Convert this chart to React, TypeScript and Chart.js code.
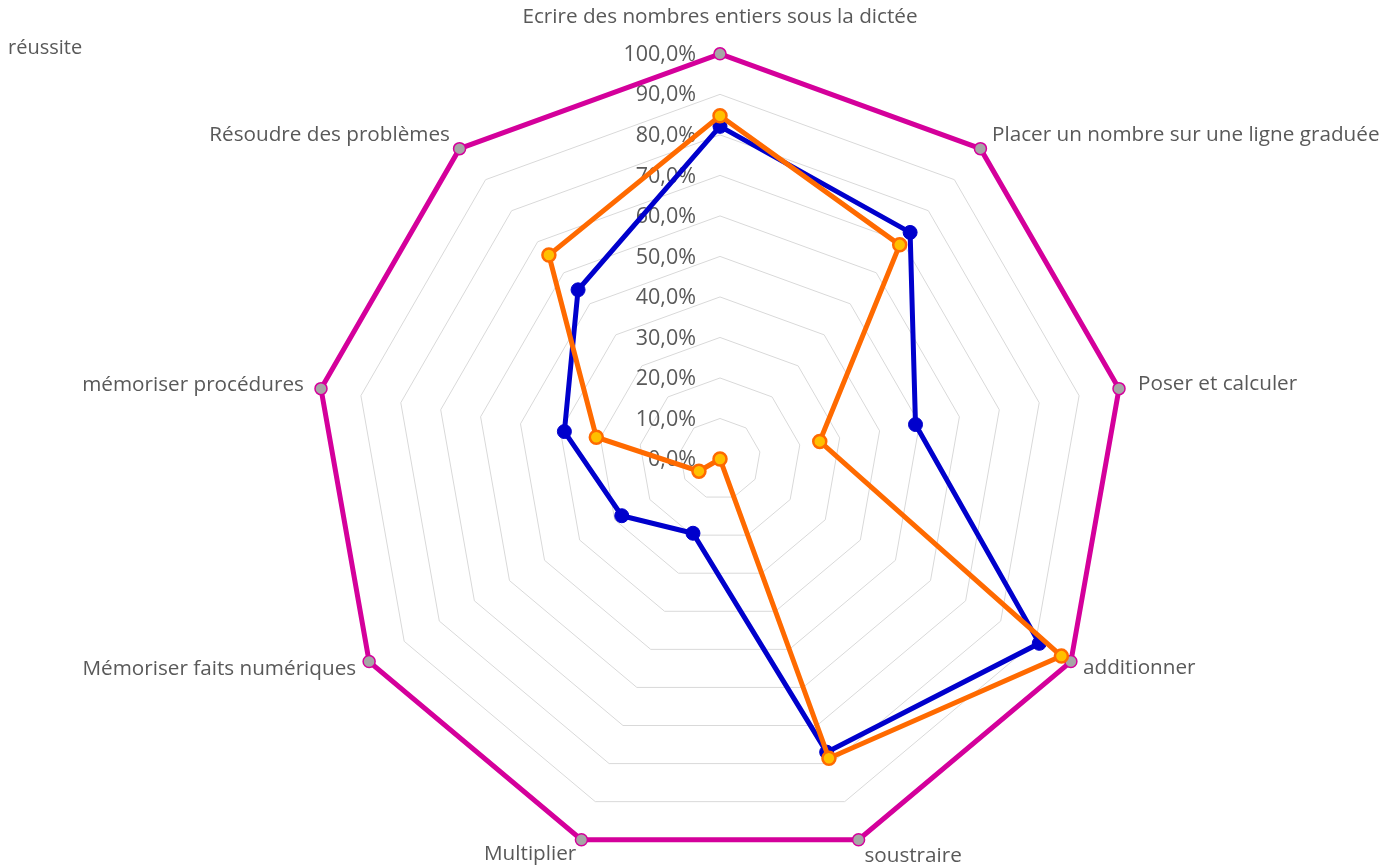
import React, { useEffect, useRef } from 'react';
import { Chart, registerables } from 'chart.js';

Chart.register(...registerables);

const categories = [
  'Ecrire des nombres entiers sous la dictée',
  'Placer un nombre sur une ligne graduée',
  'Poser et calculer',
  'additionner',
  'soustraire',
  'Multiplier',
  'Mémoriser faits numériques',
  'mémoriser procédures',
  'Résoudre des problèmes',
];

const fullScore = [100, 100, 100, 100, 100, 100, 100, 100, 100];
const blueSeries = [82.1, 73, 49, 91, 77, 19.5, 28, 39, 54.5];
const orangeSeries = [84.7, 69, 25, 97.3, 78.6, 0, 6, 31, 65.7];
const tickValues = [0, 10, 20, 30, 40, 50, 60, 70, 80, 90, 100];
const legendText = 'réussite';

const FONT = "'Open Sans', sans-serif";
const TEXT_COLOR = '#595959';
const LABEL_SIZE = 20.7;
const labelPadding = [24, 18, 19.4, 14, 17, 15, 15, 17.4, 15];
const labelLineHeight = ['', '0px', '2.6px', '0px', '0px', '0px', '0px', '1.4px', '4.6px'];

const fmt = (v: number) => v.toFixed(1).replace('.', ',') + '%';

const tickLabelPlugin = {
  id: 'tickLabelsLeft',
  beforeDatasetsDraw(chart: any) {
    const scale = chart.scales.r;
    const ctx = chart.ctx;
    ctx.save();
    ctx.font = `21.5px ${FONT}`;
    ctx.fillStyle = TEXT_COLOR;
    ctx.textAlign = 'right';
    ctx.textBaseline = 'middle';
    tickValues.forEach((v) => {
      const d = scale.getDistanceFromCenterForValue(v);
      ctx.fillText(fmt(v), scale.xCenter - 24, scale.yCenter - d + 1);
    });
    ctx.restore();
  },
};

export default function App() {
  const canvasRef = useRef<HTMLCanvasElement | null>(null);

  useEffect(() => {
    document.body.style.margin = '0';
    const canvas = canvasRef.current;
    if (!canvas) return;
    const chart = new Chart(canvas, {
      type: 'radar',
      data: {
        labels: categories,
        datasets: [
          {
            label: 'Élève',
            data: orangeSeries,
            borderColor: '#FF6A00',
            borderWidth: 5,
            backgroundColor: 'transparent',
            fill: false,
            pointRadius: 6.5,
            pointBackgroundColor: '#FFC000',
            pointBorderColor: '#FF6A00',
            pointBorderWidth: 2.5,
          },
          {
            label: 'Classe',
            data: blueSeries,
            borderColor: '#0000CC',
            borderWidth: 5,
            backgroundColor: 'transparent',
            fill: false,
            pointRadius: 7,
            pointBackgroundColor: '#0000CC',
            pointBorderColor: '#0000CC',
            pointBorderWidth: 1,
          },
          {
            label: '100 % réussite',
            data: fullScore,
            borderColor: '#D4009B',
            borderWidth: 5,
            backgroundColor: 'transparent',
            fill: false,
            pointRadius: 6,
            pointBackgroundColor: '#A6A6A6',
            pointBorderColor: '#D4009B',
            pointBorderWidth: 1.5,
          },
        ],
      },
      options: {
        animation: false,
        responsive: true,
        maintainAspectRatio: false,
        plugins: {
          legend: { display: false },
          tooltip: { enabled: false },
        },
        elements: { line: { tension: 0 } },
        scales: {
          r: {
            min: 0,
            max: 100,
            beginAtZero: true,
            ticks: { display: false, stepSize: 10 },
            grid: { color: '#D9D9D9', lineWidth: 1 },
            angleLines: { display: false },
            pointLabels: {
              color: TEXT_COLOR,
              font: (ctx: any) => {
                const lh = labelLineHeight[ctx.index];
                return lh
                  ? { family: FONT, size: LABEL_SIZE, lineHeight: lh }
                  : { family: FONT, size: LABEL_SIZE };
              },
              padding: (ctx: any) => labelPadding[ctx.index] ?? 5,
            },
          },
        },
      },
      plugins: [tickLabelPlugin],
    });
    return () => chart.destroy();
  }, []);

  return (
    <div
      style={{
        position: 'fixed',
        left: 0,
        top: 0,
        width: 1381,
        height: 865,
        overflow: 'hidden',
        background: '#fff',
      }}
    >
      <div style={{ position: 'absolute', left: -470, top: -19, width: 2381, height: 908 }}>
        <canvas ref={canvasRef} />
      </div>
      <div
        style={{
          position: 'absolute',
          left: 8,
          top: 33,
          fontFamily: FONT,
          fontSize: 20,
          color: TEXT_COLOR,
          lineHeight: '28px',
        }}
      >
        {legendText}
      </div>
    </div>
  );
}
